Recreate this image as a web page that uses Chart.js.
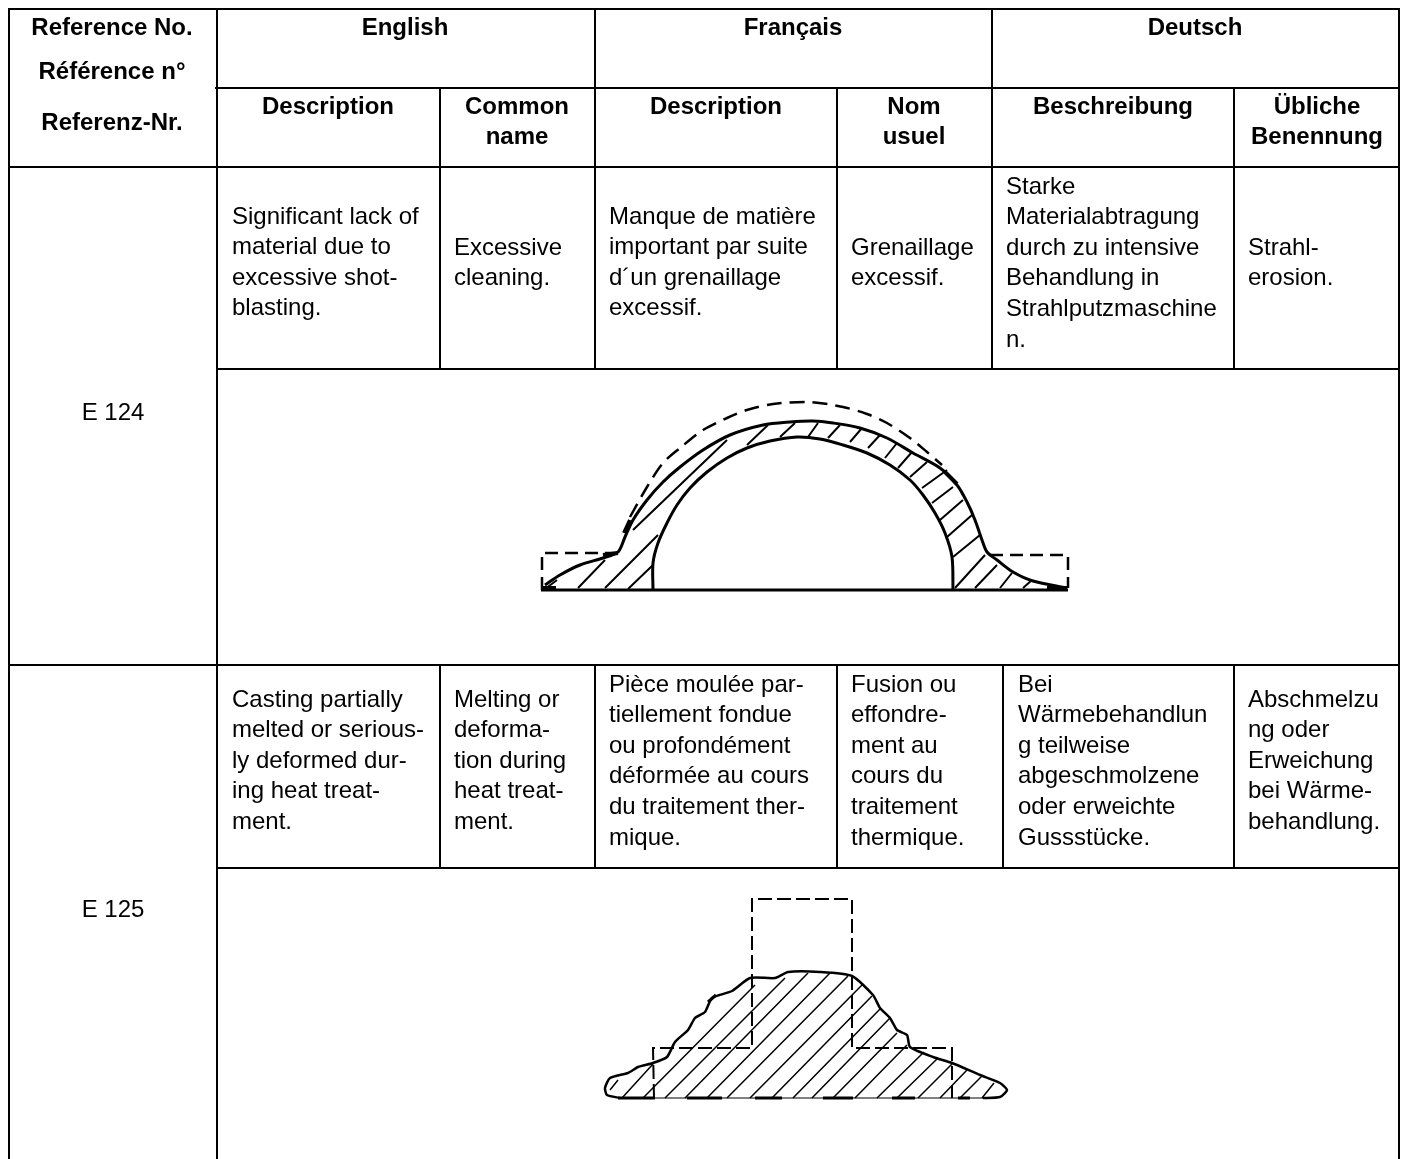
<!DOCTYPE html>
<html>
<head>
<meta charset="utf-8">
<title>E 124 / E 125</title>
<script src="https://cdn.jsdelivr.net/npm/chart.js@4"></script>
<style>
    html, body { margin: 0; padding: 0; background: #fff; overflow: hidden; }
    canvas { display: block; }
</style>
</head>
<body>
<canvas id="sheet" width="1405" height="1159"></canvas>
<script>
// Table text, one entry per printed line

const refHead = ["Reference No.", "Référence n°", "Referenz-Nr."];
const langHead = ["English", "Français", "Deutsch"];
const enHead = [["Description"], ["Common", "name"]];
const frHead = [["Description"], ["Nom", "usuel"]];
const deHead = [["Beschreibung"], ["Übliche", "Benennung"]];
const refNumbers = ["E 124", "E 125"];

const e124En = ["Significant lack of", "material due to", "excessive shot-", "blasting."];
const e124EnName = ["Excessive", "cleaning."];
const e124Fr = ["Manque de matière", "important par suite", "d´un grenaillage", "excessif."];
const e124FrName = ["Grenaillage", "excessif."];
const e124De = ["Starke", "Materialabtragung", "durch zu intensive", "Behandlung in", "Strahlputzmaschine", "n."];
const e124DeName = ["Strahl-", "erosion."];

const e125En = ["Casting partially", "melted or serious-", "ly deformed dur-", "ing heat treat-", "ment."];
const e125EnName = ["Melting or", "deforma-", "tion during", "heat treat-", "ment."];
const e125Fr = ["Pièce moulée par-", "tiellement fondue", "ou profondément", "déformée au cours", "du traitement ther-", "mique."];
const e125FrName = ["Fusion ou", "effondre-", "ment au", "cours du", "traitement", "thermique."];
const e125De = ["Bei", "Wärmebehandlun", "g teilweise", "abgeschmolzene", "oder erweichte", "Gussstücke."];
const e125DeName = ["Abschmelzu", "ng oder", "Erweichung", "bei Wärme-", "behandlung."];

// Table rules, as [x1, y1, x2, y2]

const tableRules = [
    [8, 9, 1400, 9], [215, 88, 1399, 88], [8, 167, 1399, 167], [217, 369, 1399, 369],
    [9, 665, 1399, 665], [217, 868, 1399, 868],
    [9, 9, 9, 1159], [217, 9, 217, 1159], [1399, 9, 1399, 1159],
    [440, 88, 440, 369], [595, 9, 595, 369], [837, 88, 837, 369], [992, 9, 992, 369], [1234, 88, 1234, 369],
    [440, 665, 440, 868], [595, 665, 595, 868], [837, 665, 837, 868], [1003, 665, 1003, 868], [1234, 665, 1234, 868]
];

// E 124 drawing

const domeOuter = [[545, 585], [560, 575], [580, 565], [603, 558], [618, 552], [625, 537], [633, 520], [647, 500], [663, 482],
    [680, 467], [703, 450], [730, 435], [763, 425], [790, 422], [813, 421], [833, 423], [860, 428], [887, 438], [913, 453],
    [940, 468], [957, 485], [967, 502], [975, 520], [982, 540], [987, 552], [997, 560], [1013, 572], [1033, 581], [1067, 588]];
const domeInner = [[653, 590], [653, 563], [658, 543], [667, 523], [677, 505], [690, 488], [707, 472], [727, 458], [747, 448],
    [770, 441], [797, 437], [820, 439], [843, 445], [867, 453], [890, 465], [910, 480], [923, 495], [935, 513], [945, 533],
    [952, 557], [953, 590]];
const domeBase = [[541, 590], [1068, 590]];
const domeGhostArc = [[630, 517], [647, 487], [663, 463], [680, 448], [703, 430], [727, 418], [747, 410], [773, 404], [810, 402],
    [843, 407], [867, 414], [887, 423], [910, 438], [927, 452], [942, 465]];
const domeGhostLeft = [[542, 590], [542, 553], [617, 553]];
const domeGhostRight = [[990, 555], [1068, 555], [1068, 588]];
const domeThick = [[603, 555, 618, 553], [624, 533, 630, 520], [945, 472, 957, 484], [1047, 588, 1067, 588], [542, 588, 556, 588]];
const domeHatch = [
    [545, 589, 557, 580], [578, 588, 605, 560], [605, 588, 658, 535], [628, 589, 653, 565], [633, 530, 727, 440],
    [747, 445, 768, 425], [780, 437, 795, 423], [808, 437, 818, 423], [828, 438, 840, 425], [850, 442, 862, 428],
    [868, 448, 880, 435], [885, 458, 897, 443], [898, 468, 912, 452], [910, 477, 927, 462], [922, 488, 947, 470],
    [932, 503, 953, 487], [940, 520, 963, 500], [947, 537, 972, 515], [953, 557, 980, 535], [955, 588, 985, 555],
    [975, 588, 997, 565], [1000, 588, 1012, 573], [1023, 588, 1032, 580]
];

// E 125 drawing

const lumpOutline = [[620, 1098], [607, 1095], [605, 1088], [610, 1078], [628, 1073], [638, 1067], [653, 1063], [667, 1057],
    [675, 1042], [688, 1030], [695, 1018], [705, 1012], [712, 998], [732, 991], [750, 978], [775, 978], [788, 972], [820, 972],
    [852, 976], [873, 995], [880, 1008], [890, 1018], [897, 1030], [907, 1035], [910, 1047], [933, 1057], [952, 1063],
    [980, 1075], [1000, 1083], [1007, 1090], [1000, 1097], [983, 1098]];
const lumpBase = [[620, 1098], [983, 1098]];
const lumpGhost = [[654, 1098], [653, 1048], [752, 1048], [752, 899], [852, 899], [852, 1048], [952, 1048], [952, 1098]];
const lumpThick = [[618, 1098, 655, 1098], [687, 1098, 722, 1098], [755, 1098, 782, 1098], [823, 1098, 853, 1098],
    [892, 1098, 915, 1098], [958, 1098, 970, 1098], [708, 1002, 716, 995]];
const lumpHatch = [
    [610, 1090, 618, 1080], [622, 1098, 653, 1064], [643, 1098, 755, 985], [665, 1098, 785, 978], [685, 1098, 808, 973],
    [707, 1098, 830, 973], [727, 1098, 848, 976], [750, 1098, 862, 985], [772, 1098, 872, 996], [793, 1098, 881, 1008],
    [812, 1098, 890, 1018], [833, 1098, 897, 1033], [855, 1098, 907, 1045], [877, 1098, 924, 1052], [897, 1098, 938, 1058],
    [918, 1098, 952, 1064], [940, 1098, 967, 1070], [960, 1098, 982, 1076], [982, 1098, 994, 1083]
];

// Where each block of text goes

const LINE = 30.6;
const BOLD = "bold 24px 'Liberation Sans'";
const BODY = "24px 'Liberation Sans'";

const textBlocks = [
    { lines: refHead.slice(0, 1), x: 112, y: 28, font: BOLD, align: "center" },
    { lines: refHead.slice(1, 2), x: 112, y: 72, font: BOLD, align: "center" },
    { lines: refHead.slice(2), x: 112, y: 123, font: BOLD, align: "center" },
    { lines: langHead.slice(0, 1), x: 405, y: 28, font: BOLD, align: "center" },
    { lines: langHead.slice(1, 2), x: 793, y: 28, font: BOLD, align: "center" },
    { lines: langHead.slice(2), x: 1195, y: 28, font: BOLD, align: "center" },
    { lines: enHead[0], x: 328, y: 107, font: BOLD, align: "center" },
    { lines: enHead[1], x: 517, y: 107, font: BOLD, align: "center" },
    { lines: frHead[0], x: 716, y: 107, font: BOLD, align: "center" },
    { lines: frHead[1], x: 914, y: 107, font: BOLD, align: "center" },
    { lines: deHead[0], x: 1113, y: 107, font: BOLD, align: "center" },
    { lines: deHead[1], x: 1317, y: 107, font: BOLD, align: "center" },
    { lines: refNumbers.slice(0, 1), x: 113, y: 413, font: BODY, align: "center" },
    { lines: refNumbers.slice(1), x: 113, y: 910, font: BODY, align: "center" },
    { lines: e124En, x: 232, y: 217, font: BODY, align: "left" },
    { lines: e124EnName, x: 454, y: 248, font: BODY, align: "left" },
    { lines: e124Fr, x: 609, y: 217, font: BODY, align: "left" },
    { lines: e124FrName, x: 851, y: 248, font: BODY, align: "left" },
    { lines: e124De, x: 1006, y: 187, font: BODY, align: "left" },
    { lines: e124DeName, x: 1248, y: 248, font: BODY, align: "left" },
    { lines: e125En, x: 232, y: 700, font: BODY, align: "left" },
    { lines: e125EnName, x: 454, y: 700, font: BODY, align: "left" },
    { lines: e125Fr, x: 609, y: 685, font: BODY, align: "left" },
    { lines: e125FrName, x: 851, y: 685, font: BODY, align: "left" },
    { lines: e125De, x: 1018, y: 685, font: BODY, align: "left" },
    { lines: e125DeName, x: 1248, y: 700, font: BODY, align: "left" }
];

// Turn [x, y] lists and [x1, y1, x2, y2] lists into scatter points

function toPoints(list) {
    return list.map(function (p) { return { x: p[0], y: p[1] }; });
}

function toSegments(list) {
    const points = [];
    list.forEach(function (s) {
        points.push({ x: s[0], y: s[1] }, { x: s[2], y: s[3] }, { x: null, y: null });
    });
    return points;
}

function stroke(data, width, extra) {
    return Object.assign({
        data: data,
        showLine: true,
        spanGaps: false,
        pointRadius: 0,
        borderColor: "#000",
        borderWidth: width,
        tension: 0,
        clip: false
    }, extra || {});
}

// Text is drawn on the chart at the scale position of each block

const tablePrinter = {
    id: "tablePrinter",
    afterDatasetsDraw(chart) {
        const ctx = chart.ctx;
        const sx = chart.scales.x;
        const sy = chart.scales.y;
        ctx.save();
        ctx.fillStyle = "#000";
        ctx.textBaseline = "middle";
        textBlocks.forEach(function (block) {
            ctx.font = block.font;
            ctx.textAlign = block.align;
            block.lines.forEach(function (line, i) {
                ctx.fillText(line, sx.getPixelForValue(block.x), sy.getPixelForValue(block.y + i * LINE));
            });
        });
        ctx.restore();
    }
};

new Chart(document.getElementById("sheet"), {
    type: "scatter",
    data: {
        datasets: [
            stroke(toSegments(tableRules), 2),
            stroke(toPoints(domeBase), 3),
            stroke(toPoints(domeOuter), 3, { tension: 0.3 }),
            stroke(toPoints(domeInner), 3, { tension: 0.3 }),
            stroke(toPoints(domeGhostArc), 2.5, { tension: 0.3, borderDash: [15, 8] }),
            stroke(toPoints(domeGhostLeft), 2.5, { borderDash: [13, 7] }),
            stroke(toPoints(domeGhostRight), 2.5, { borderDash: [13, 7] }),
            stroke(toSegments(domeThick), 4),
            stroke(toSegments(domeHatch), 2),
            stroke(toPoints(lumpOutline), 2.5, { tension: 0.2 }),
            stroke(toPoints(lumpBase), 1),
            stroke(toPoints(lumpGhost), 2, { borderDash: [14, 5] }),
            stroke(toSegments(lumpThick), 3),
            stroke(toSegments(lumpHatch), 1.5)
        ]
    },
    options: {
        responsive: false,
        animation: false,
        layout: { padding: 0 },
        plugins: { legend: { display: false }, tooltip: { enabled: false } },
        scales: {
            x: { type: "linear", display: false, min: 0, max: 1405 },
            y: { type: "linear", display: false, min: 0, max: 1159, reverse: true }
        }
    },
    plugins: [tablePrinter]
});
</script>
</body>
</html>
